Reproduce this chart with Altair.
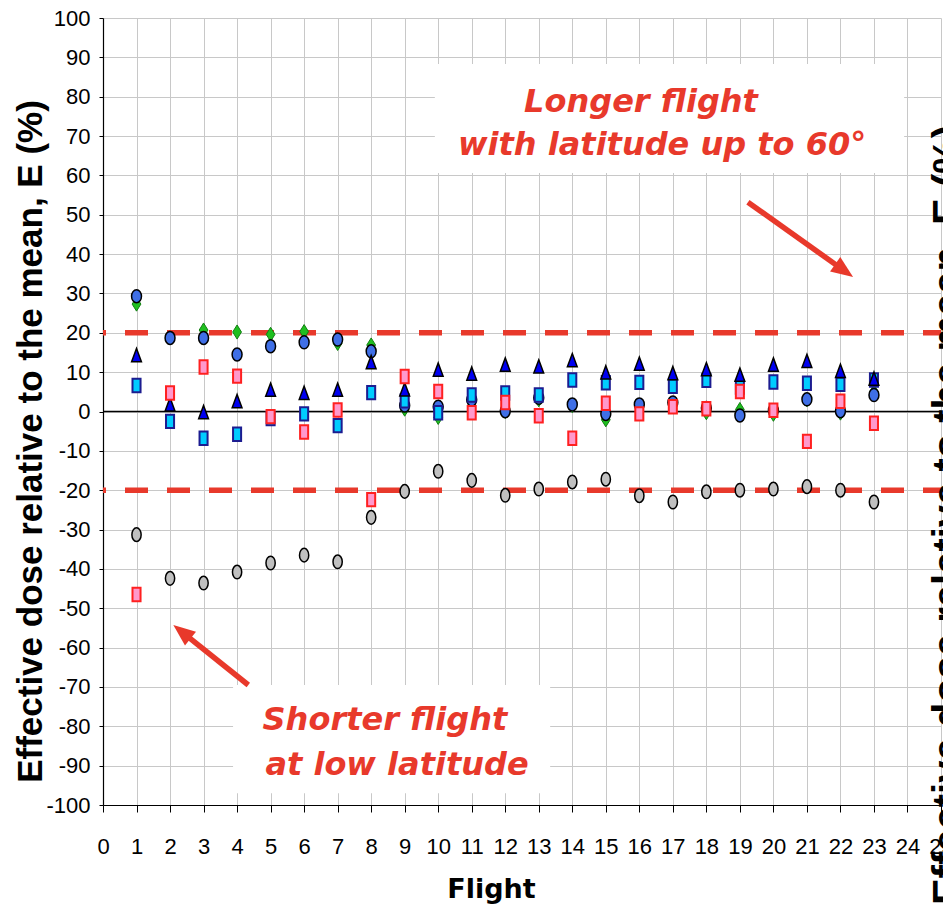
import altair as alt
import pandas as pd

# ---------------- data ----------------
flights = list(range(1, 24))
green_diamond = [27.3, 18.7, 20.7, 20.2, 19.6, 20.3, 17.3, 16.9, 0.6, -1.5, 2.5, 0.0,
                 3.0, 1.5, -2.1, 1.5, 2.0, -0.3, 0.5, -0.7, 3.0, -0.4, 5.0]
blue_circle = [29.3, 18.7, 18.7, 14.5, 16.6, 17.6, 18.3, 15.3, 1.5, 1.2, 3.0, 0.1,
               3.5, 1.8, -0.6, 1.8, 2.3, 0.9, -1.0, 0.3, 3.1, 0.1, 4.2]
blue_triangle = [14.3, 1.8, -0.2, 2.6, 5.5, 4.7, 5.5, 12.5, 5.6, 10.6, 9.6, 11.9,
                 11.4, 13.0, 9.9, 12.1, 9.7, 10.7, 9.3, 11.9, 12.8, 10.3, 8.3]
cyan_square = [6.6, -2.5, -6.8, -5.8, -1.8, -0.6, -3.6, 4.8, 2.7, -0.3, 4.2, 4.7,
               4.2, 8.0, 7.3, 7.4, 6.4, 7.9, 6.2, 7.5, 7.2, 6.9, 8.0]
pink_square = [-46.5, 4.7, 11.3, 9.0, -1.3, -5.2, 0.4, -22.4, 8.9, 5.1, -0.3, 2.3,
               -1.1, -6.8, 2.1, -0.6, 1.2, 0.7, 5.1, 0.3, -7.6, 2.6, -3.0]
gray_circle = [-31.3, -42.4, -43.6, -40.8, -38.5, -36.5, -38.2, -26.9, -20.3, -15.2, -17.5, -21.3,
               -19.7, -17.9, -17.2, -21.4, -23.0, -20.4, -20.0, -19.7, -19.1, -20.0, -23.0]

x_ticks = list(range(0, 26))
y_ticks = list(range(-100, 101, 10))
limit_lines = [20, -20]
zero_line = [0]

y_title = "Effective dose relative to the mean, E (%)"
x_title = "Flight"

# annotation texts (anchored in data units)
note_text = ["Longer flight", "with latitude up to 60°", "Shorter flight", "at low latitude"]
note_x = [16.05, 16.68, 8.41, 8.77]
note_y = [76.1, 65.2, -80.9, -92.4]

# white boxes behind the notes
box_x1 = [9.9, 3.88]
box_x2 = [23.9, 13.34]
box_y1 = [60.6, -69.5]
box_y2 = [88.3, -97.0]

# arrows: start -> head
arrow_x1 = [19.24, 4.335]
arrow_y1 = [53.2, -69.5]
arrow_x2 = [22.11, 2.354]
arrow_y2 = [35.8, -56.0]
arrow_angle = [125.5, 308.7]

RED = "#e8392b"

# ---------------- shared encodings ----------------
x_axis = alt.Axis(
    values=x_ticks, grid=True, gridColor="#c8c8c8", gridWidth=1,
    domainColor="black", domainWidth=1.2, tickColor="black", tickSize=7, tickWidth=1,
    labelFont="Liberation Sans Narrow, Arial Narrow, Liberation Sans", labelFontSize=22,
    labelColor="black", labelPadding=24, labelFlush=False, labelOverlap=False,
    title=x_title, titleFont="DejaVu Sans", titleFontSize=27, titleFontWeight="bold",
    titleColor="black", titleX=388, titleY=92, titleAlign="center",
    titleBaseline="alphabetic", titleAnchor="start",
)
y_axis = alt.Axis(
    values=y_ticks, grid=True, gridColor="#c8c8c8", gridWidth=1,
    domainColor="black", domainWidth=1.2, tickColor="black", tickSize=4, tickWidth=1,
    labelFont="Liberation Sans Narrow, Arial Narrow, Liberation Sans", labelFontSize=22,
    labelColor="black", labelPadding=9, labelFlush=False, labelOverlap=False,
    labelExpr="'' + datum.value",
    title=y_title, titleFont="Liberation Sans, Arial", titleFontSize=35,
    titleFontWeight="bold", titleColor="black", titleX=-73, titleY=423,
    titleAngle=270, titleAlign="center", titleBaseline="middle",
)
xs = alt.Scale(domain=[0, 25], nice=False, zero=False)
ys = alt.Scale(domain=[-100, 100], nice=False, zero=False)


def X(field):
    return alt.X(field, type="quantitative", scale=xs, axis=x_axis)


def Y(field):
    return alt.Y(field, type="quantitative", scale=ys, axis=y_axis)


# ---------------- layers ----------------
boxes = alt.Chart(pd.DataFrame({"x1": box_x1, "x2": box_x2, "y1": box_y1, "y2": box_y2})).mark_rect(
    fill="white", stroke=None
).encode(x=X("x1"), x2="x2", y=Y("y1"), y2="y2")

zero = alt.Chart(pd.DataFrame({"E": zero_line})).mark_rule(
    color="black", strokeWidth=1.6
).encode(y=Y("E"))

limits = alt.Chart(pd.DataFrame({"E": limit_lines})).mark_rule(
    color=RED, strokeWidth=5.5, strokeDash=[23, 19], strokeDashOffset=5
).encode(y=Y("E"))


def ellipse(a):
    k = 0.5523
    return (f"M 0 -1 C {k*a:.3f} -1 {a} -{k} {a} 0 C {a} {k} {k*a:.3f} 1 0 1 "
            f"C -{k*a:.3f} 1 -{a} {k} -{a} 0 C -{a} -{k} -{k*a:.3f} -1 0 -1 Z")


def rect(a):
    return f"M -{a} -1 L {a} -1 L {a} 1 L -{a} 1 Z"


TRI = "M 0 -1 L 0.72 0.95 L -0.72 0.95 Z"
DIA = "M 0 -1 L 0.62 0 L 0 1 L -0.62 0 Z"


def series(vals, shape, size, fill, stroke, sw):
    df = pd.DataFrame({"flight": flights, "E": vals})
    return alt.Chart(df).mark_point(
        shape=shape, size=size, filled=True, fill=fill, stroke=stroke,
        strokeWidth=sw, opacity=1, fillOpacity=1, strokeOpacity=1
    ).encode(x=X("flight"), y=Y("E"))


s_green = series(green_diamond, DIA, 200, "#1fbf1f", "#128012", 1)
s_blue = series(blue_circle, ellipse(0.76), 170, "#3f6fe6", "black", 1.5)
s_cyan = series(cyan_square, rect(0.6), 180, "#00ccff", "#1c1c90", 2)
s_tri = series(blue_triangle, TRI, 185, "#0000f0", "black", 1.5)
s_pink = series(pink_square, rect(0.6), 180, "#ff99cc", "#ff2020", 2)
s_gray = series(gray_circle, ellipse(0.68), 185, "#c0c0c0", "black", 1.5)

arrow_df = pd.DataFrame({"x1": arrow_x1, "y1": arrow_y1, "x2": arrow_x2, "y2": arrow_y2,
                         "ang": arrow_angle})
arrow_lines = alt.Chart(arrow_df).mark_rule(color=RED, strokeWidth=5.5).encode(
    x=X("x1"), y=Y("y1"), x2="x2", y2="y2"
)
arrow_heads = alt.Chart(arrow_df).mark_point(
    shape="M 0 -1 L 0.8 1 L -0.8 1 Z", size=484, filled=True, fill=RED,
    stroke=None, opacity=1, fillOpacity=1
).encode(x=X("x2"), y=Y("y2"), angle=alt.Angle("ang:Q", scale=None))

notes = alt.Chart(pd.DataFrame({"x": note_x, "y": note_y, "t": note_text})).mark_text(
    font="DejaVu Sans", fontSize=32, fontWeight="bold", fontStyle="italic",
    color=RED, align="center", baseline="alphabetic"
).encode(x=X("x"), y=Y("y"), text="t:N")

right_label = alt.Chart(pd.DataFrame({"t": [y_title]})).mark_text(
    font="Liberation Sans, Arial", fontSize=40, fontWeight="bold", color="black",
    angle=270, align="center", baseline="alphabetic"
).encode(text="t:N", x=alt.value(858), y=alt.value(497))

chart = alt.layer(
    boxes, zero, limits, s_green, s_blue, s_cyan, s_tri, s_pink, s_gray,
    arrow_lines, arrow_heads, notes, right_label
).properties(
    width=838, height=787,
    autosize=alt.AutoSizeParams(type="none"),
    padding={"left": 95, "top": 10, "right": 2, "bottom": 100},
    background="white",
).configure_view(stroke=None)

chart.save("out.html", embed_options={"renderer": "svg", "actions": False})
